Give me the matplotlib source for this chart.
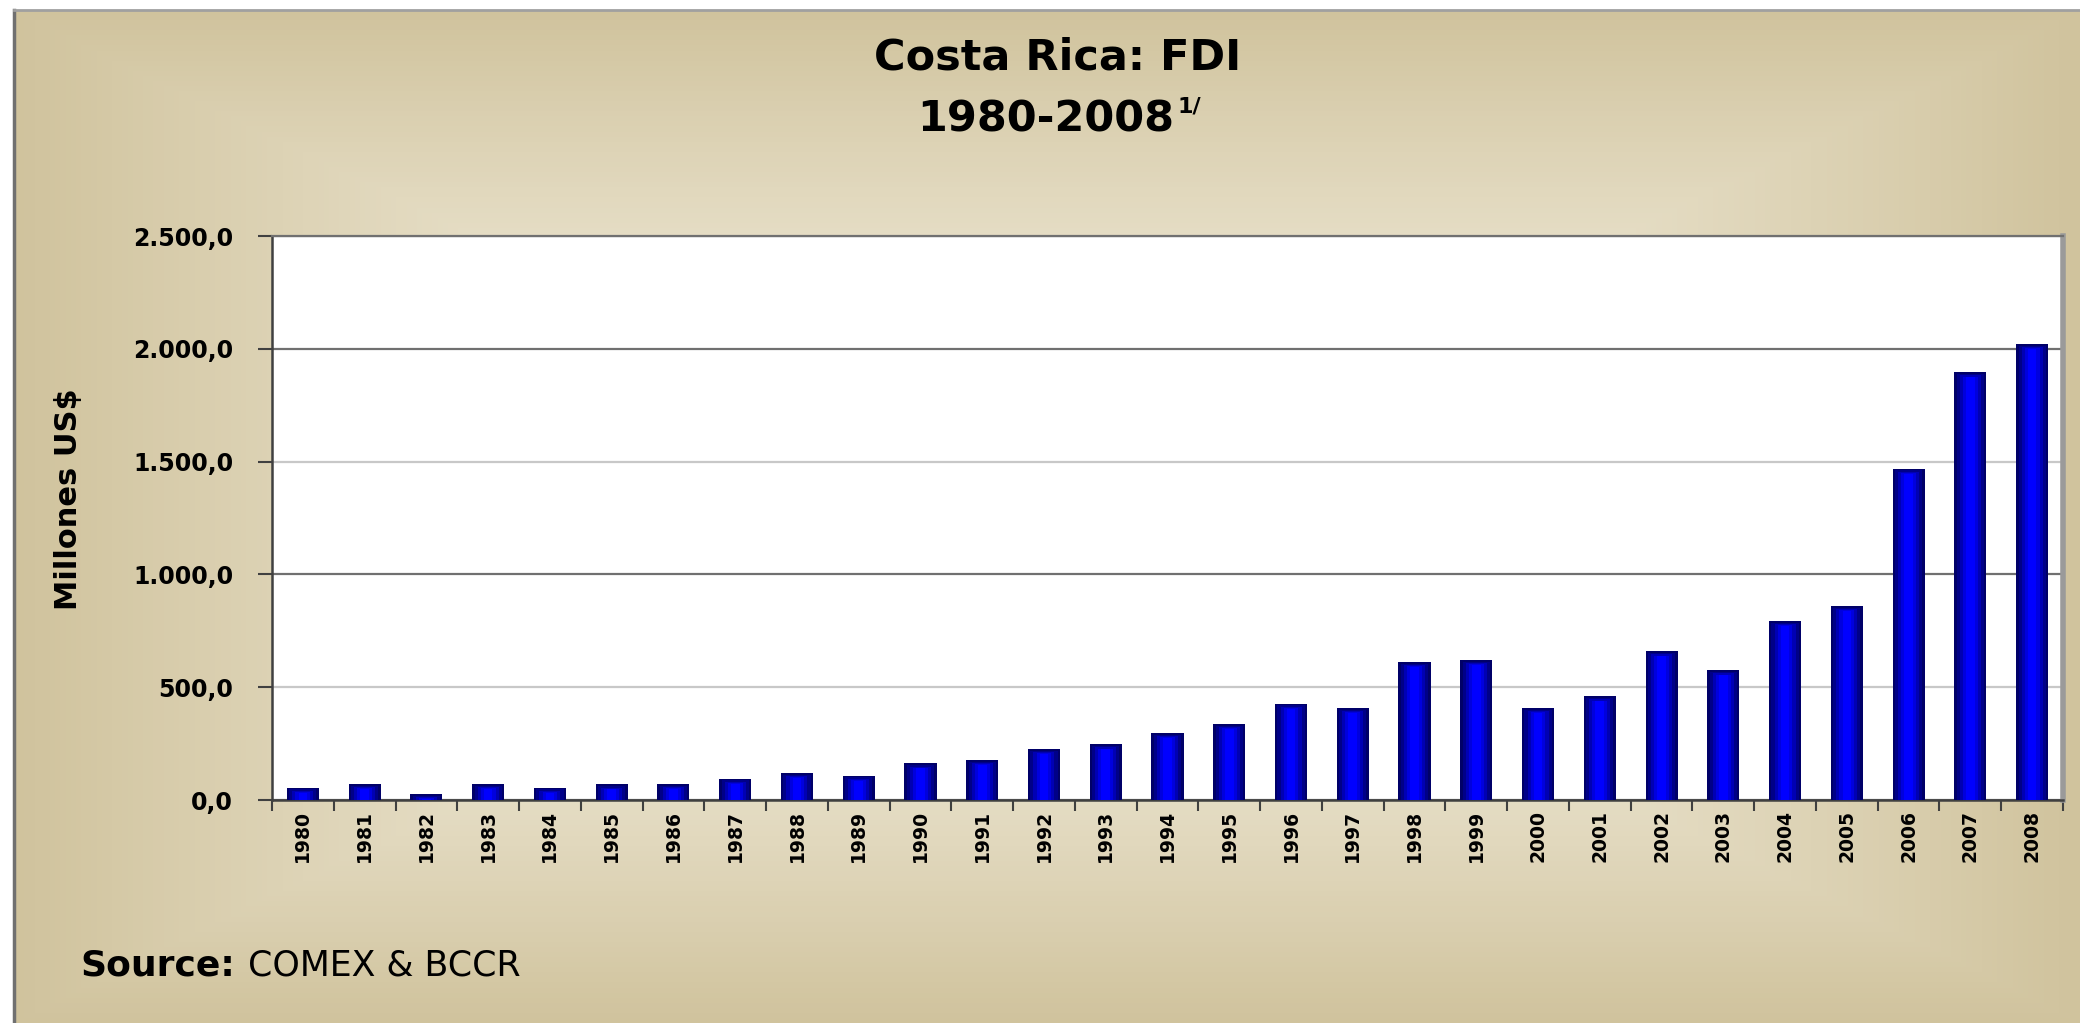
import numpy as np
import matplotlib
matplotlib.use("Agg")
import matplotlib.pyplot as plt
from matplotlib.lines import Line2D
from matplotlib.ticker import FuncFormatter, FixedLocator

# Costa Rica FDI, millions of US$
years = [str(y) for y in range(1980, 2009)]
fdi = [55, 70, 27, 70, 55, 69, 70, 95, 121, 108,
       162, 178, 226, 247, 298, 337, 427, 407, 612, 620,
       409, 460, 659, 575, 794, 861, 1469, 1896, 2021]
y_ticks = [0, 500, 1000, 1500, 2000, 2500]

W, H = 2080, 1023
fig = plt.figure(figsize=(W / 100, H / 100), dpi=100)
fig.patch.set_facecolor("white")

# beige "from center" gradient panel
bg = fig.add_axes([14 / W, 0, 1 - 14 / W, 1 - 10 / H], zorder=0)
u = np.abs(np.linspace(-1, 1, 400))
v = np.abs(np.linspace(-1, 1, 200))
t = np.maximum(u[None, :], v[:, None]) ** 1.5
light = np.array([244, 239, 224]) / 255
dark = np.array([208, 195, 157]) / 255
img = light[None, None, :] * (1 - t[..., None]) + dark[None, None, :] * t[..., None]
bg.imshow(img, aspect="auto", extent=[0, 1, 0, 1])
bg.set_axis_off()
fig.add_artist(Line2D([14 / W, 14 / W], [0, 1 - 10 / H], color="#707070", lw=2.5))
fig.add_artist(Line2D([14 / W, 1], [1 - 10 / H, 1 - 10 / H], color="#a0a0a0", lw=2))

ax = fig.add_axes([272 / W, 1 - 800 / H, (2063 - 272) / W, (800 - 236) / H], zorder=2)
ax.set_facecolor("white")
x = np.arange(len(years))

# cylinder-like shading: stacked bars from dark edge to bright core
layers = [(0.52, "#000068", 0), (0.44, "#000088", 8), (0.34, "#0000b4", 14),
          (0.24, "#0000de", 19), (0.14, "#0000ff", 22)]
for width, color, cap in layers:
    heights = np.maximum(np.array(fdi) - cap, 0)
    ax.bar(x, heights, width=width, color=color, linewidth=0, zorder=3)

ax.set_xlim(-0.5, len(years) - 0.5)
ax.set_ylim(0, 2500)
ax.set_yticks(y_ticks)
ax.yaxis.set_major_formatter(FuncFormatter(
    lambda val, pos: f"{val:,.1f}".replace(",", "X").replace(".", ",").replace("X", ".")))

ax.set_xticks(x)
ax.set_xticklabels(years, rotation=90, fontsize=13.5, fontweight="bold")
ax.xaxis.set_minor_locator(FixedLocator(np.arange(-0.5, len(years), 1)))
ax.tick_params(axis="x", which="major", length=0, pad=7)
ax.tick_params(axis="x", which="minor", length=8, width=1.5, color="#404040", direction="out")
ax.tick_params(axis="y", length=10, width=1.5, color="#404040", pad=18, labelsize=17)
for lab in ax.get_yticklabels():
    lab.set_fontweight("bold")

ax.set_axisbelow(True)
ax.yaxis.grid(True, linewidth=1.6)
grid_colors = ["#707070", "#c8c8c8", "#707070", "#c8c8c8", "#707070", "#707070"]
for gl, c in zip(ax.get_ygridlines(), grid_colors):
    gl.set_color(c)

for side in ["left", "bottom"]:
    ax.spines[side].set_color("#404040")
    ax.spines[side].set_linewidth(1.8)
ax.spines["top"].set_color("#707070")
ax.spines["top"].set_linewidth(1.6)
ax.spines["right"].set_color("#9a9a9a")
ax.spines["right"].set_linewidth(4)

fig.text(69 / W, 1 - 499 / H, "Millones US$", rotation=90, ha="center", va="center",
         fontsize=22, fontweight="bold")

# title
fig.text(1058 / W, 1 - 57 / H, "Costa Rica: FDI", ha="center", va="center",
         fontsize=31, fontweight="bold")
fig.text(1174 / W, 1 - 120 / H, "1980-2008", ha="right", va="center",
         fontsize=31, fontweight="bold")
fig.text(1178 / W, 1 - 106 / H, "1/", ha="left", va="center",
         fontsize=16, fontweight="bold")

# source
fig.text(80 / W, 1 - 966 / H, "Source:", ha="left", va="center",
         fontsize=26, fontweight="bold")
fig.text(248 / W, 1 - 966 / H, "COMEX & BCCR", ha="left", va="center", fontsize=25)

fig.savefig("out.png", dpi=100)
